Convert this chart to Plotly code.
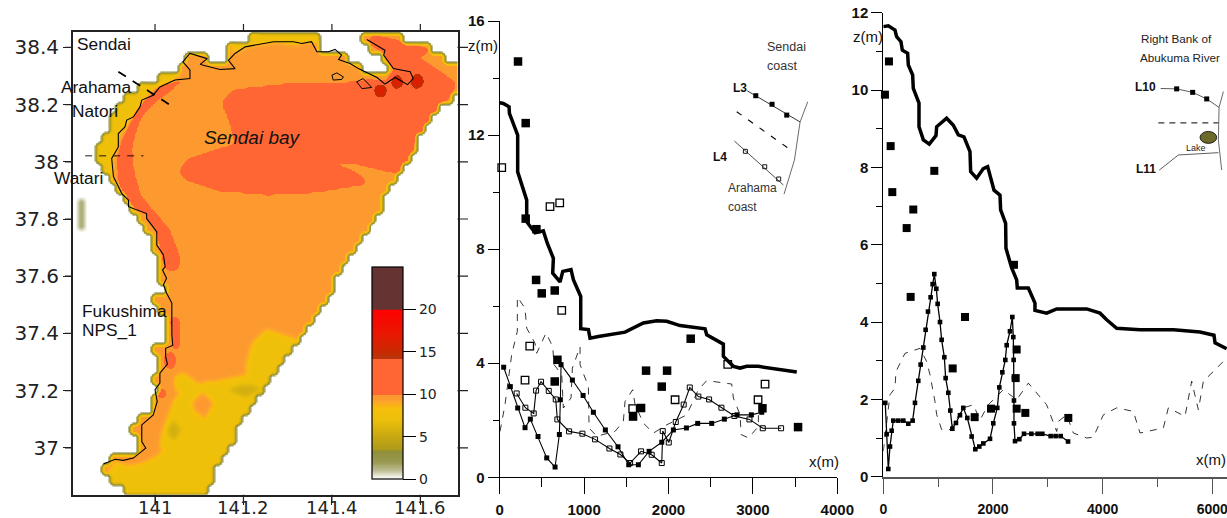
import numpy as np
import plotly.graph_objects as go

W, H = 1227, 518

# ---------- map regions (longitude, latitude) ----------
SEA_LON = [141.060,141.079,141.128,141.111,141.147,141.173,141.151,141.177,141.238,141.328,141.392,141.373,141.426,141.434,141.517,141.532,141.528,141.502,141.468,141.464,141.502,141.615,141.660,141.684,141.684,141.637,141.592,141.547,141.517,141.479,141.434,141.373,141.313,141.253,141.192,141.132,141.113,140.936,140.891,140.883,140.910,140.951,140.959,140.947,140.966,140.996,141.000,140.996,141.010,140.998,141.023,141.030,140.989,141.026,140.998,141.004,140.974,140.936,140.910,140.872,140.857,140.887,140.891,140.936,140.981,141.049]
SEA_LAT = [38.344,38.379,38.367,38.341,38.326,38.338,38.373,38.414,38.443,38.443,38.425,38.390,38.373,38.344,38.291,38.291,38.315,38.367,38.402,38.443,38.449,38.408,38.350,38.326,38.251,38.169,38.064,37.948,37.866,37.761,37.652,37.500,37.360,37.209,37.080,36.917,36.836,36.836,36.906,36.941,36.976,36.976,37.022,37.069,37.104,37.115,37.197,37.255,37.273,37.348,37.358,37.465,37.517,37.535,37.646,37.668,37.761,37.837,37.913,37.994,38.041,38.099,38.134,38.227,38.280,38.307]

YELLOW_NW_LON = [140.845,140.902,140.902,140.917,140.932,140.966,141.011,141.057,141.026,140.876,140.838]
YELLOW_NW_LAT = [37.959,37.959,38.006,38.099,38.122,38.204,38.265,38.303,38.332,38.181,38.041]
YELLOW_N_LON = [141.170,141.238,141.373,141.373,141.313,141.268,141.207,141.181]
YELLOW_N_LAT = [38.402,38.455,38.455,38.423,38.416,38.421,38.408,38.385]
YELLOW_S_LON = [141.328,141.253,141.222,141.211,141.207,141.132,141.094,141.064,141.045,141.045,141.060,141.041,141.019,141.011,141.019,140.974,140.936,140.910,140.891,140.876,141.140,141.450,141.450]
YELLOW_S_LAT = [37.372,37.413,37.372,37.314,37.255,37.230,37.226,37.261,37.249,37.214,37.197,37.162,37.069,37.010,36.987,36.946,36.935,36.952,36.906,36.847,36.800,36.800,37.372]
ORANGE_ISLE_LON = [141.079,141.106,141.136,141.113,141.090]
ORANGE_ISLE_LAT = [37.156,37.203,37.162,37.096,37.127]
RED_MAIN_LON = [141.155,141.177,141.290,141.403,141.449,141.479,141.524,141.584,141.543,141.517,141.479,141.502,141.562,141.618,141.588,141.637,141.675,141.667,141.630,141.592,141.551,141.479,141.366,141.253,141.140,141.072,141.057,141.079,141.132,141.185,141.173]
RED_MAIN_LAT = [38.204,38.245,38.265,38.265,38.274,38.280,38.274,38.291,38.326,38.390,38.428,38.435,38.414,38.390,38.367,38.315,38.274,38.245,38.163,38.076,37.965,37.930,37.901,37.892,37.907,37.942,37.965,38.006,38.033,38.058,38.140]
ORANGE_WEDGE_LON = [141.373,141.441,141.551,141.517,141.479,141.441,141.403]
ORANGE_WEDGE_LAT = [38.000,38.003,37.965,37.913,37.927,37.965,37.986]
RED_COAST_LON = [141.068,141.004,140.970,140.947,140.928,140.917,140.919,140.947,140.981,141.008,141.019,141.024,141.051,141.049,141.026,140.981,140.962,140.947,140.940,140.951,140.966,141.004,141.049]
RED_COAST_LAT = [38.288,38.260,38.206,38.140,38.076,38.006,37.936,37.854,37.819,37.749,37.663,37.633,37.633,37.680,37.761,37.843,37.878,37.959,38.041,38.111,38.169,38.227,38.274]
RED_STRIP_A_LON = [141.039,141.053,141.053,141.041]
RED_STRIP_A_LAT = [37.453,37.453,37.348,37.348]
RED_STRIP_B_LON = [141.026,141.041,141.041,141.026]
RED_STRIP_B_LAT = [37.328,37.328,37.284,37.284]
RED_STRIP_C_LON = [141.004,141.019,141.019,141.004]
RED_STRIP_C_LAT = [37.206,37.206,37.185,37.185]
OLIVE_A_LON = [141.022,141.041,141.062,141.041]
OLIVE_A_LAT = [37.063,37.105,37.063,37.025]
OLIVE_B_LON = [141.160,141.205,141.245,141.205]
OLIVE_B_LAT = [37.205,37.228,37.210,37.178]
ISLET_A_LON = [140.825,140.838,140.838,140.825]
ISLET_A_LAT = [37.870,37.870,37.760,37.760]
SPOT_LON = [141.509,141.547,141.592]
SPOT_LAT = [38.251,38.282,38.282]

COAST_LON = [141.479,141.520,141.517,141.539,141.577,141.584,141.571,141.543,141.520,141.502,141.460,141.441,141.415,141.422,141.407,141.392,141.366,141.354,141.332,141.313,141.268,141.230,141.204,141.181,141.166,141.181,141.147,141.109,141.102,141.118,141.079,141.063,141.079,141.079,141.045,141.011,140.996,140.970,140.966,140.951,140.936,140.932,140.917,140.917,140.902,140.906,140.925,140.940,140.940,140.981,140.981,141.004,141.004,141.019,141.023,141.017,141.026,141.019,141.026,141.038,141.038,141.040,141.024,141.024,141.028,141.011,141.011,141.000,141.005,140.996,140.970,140.970,140.979,140.951,140.928,140.910,140.883]
COAST_LAT = [38.428,38.390,38.373,38.326,38.315,38.291,38.270,38.295,38.272,38.295,38.326,38.344,38.358,38.373,38.393,38.385,38.385,38.420,38.414,38.420,38.420,38.408,38.402,38.379,38.355,38.326,38.323,38.338,38.341,38.361,38.379,38.350,38.321,38.291,38.286,38.262,38.233,38.216,38.192,38.157,38.146,38.122,38.099,38.052,38.012,37.948,37.889,37.866,37.843,37.819,37.802,37.755,37.709,37.674,37.633,37.622,37.593,37.570,37.541,37.506,37.395,37.358,37.348,37.319,37.293,37.261,37.226,37.203,37.162,37.115,37.080,37.022,36.999,36.964,36.956,36.960,36.943]
ISLAND_A_LON = [141.400,141.411,141.426,141.422,141.403,141.400]
ISLAND_A_LAT = [38.303,38.311,38.297,38.288,38.286,38.303]
ISLAND_B_LON = [141.456,141.471,141.490,141.468,141.456]
ISLAND_B_LAT = [38.280,38.291,38.260,38.256,38.280]
TRANSECT_LON = [140.917,141.038]
TRANSECT_LAT = [38.315,38.195]
WATARI_LON = [140.842,140.974]
WATARI_LAT = [38.021,38.021]

LON_TICKS = [141,141.2,141.4,141.6]
LON_LABELS = ["141","141.2","141.4","141.6"]
LAT_TICKS = [37,37.2,37.4,37.6,37.8,38,38.2,38.4]
LAT_LABELS = ["37","37.2","37.4","37.6","37.8","38","38.2","38.4"]
SCALE_TICKS = [0,5,10,15,20]

# ---------- profile L3 / L4 ----------
A_GROUND_X = [0,43,111,115,213,213,320,320,419,517,565,636,628,715,747,845,873,960,960,1051,1070,1169,1485,1604,1702,1860,1979,2137,2433,2453,2650,2650,2769,2848,2927,3065,3520]
A_GROUND_Z = [13.13,13.11,12.99,12.76,12.0,10.71,9.72,8.96,8.57,8.64,8.2,7.68,7.16,6.85,7.22,7.28,6.93,6.34,5.21,5.18,4.88,4.94,5.09,5.26,5.41,5.49,5.47,5.32,5.21,5.0,4.67,4.24,3.89,3.83,3.89,3.89,3.69]
A_L3_X = [47,126,213,300,363,454,557,656,707,719,727,861,988,1110,1252,1402,1529,1643,1770,1920,2058,2212,2346,2512,2662,2812,2982,3105,3113]
A_L3_Z = [3.86,3.18,2.43,1.74,2.04,1.43,0.68,0.36,1.50,2.72,3.95,3.41,2.87,2.28,1.66,1.07,0.44,0.44,0.91,1.23,1.66,1.73,1.89,1.89,2.04,2.19,2.19,2.28,2.42]
A_L4_X = [201,304,403,431,490,581,664,683,822,980,1130,1300,1430,1545,1675,1801,1920,1932,2003,2086,2180,2252,2354,2481,2627,2781,2959,3117,3334]
A_L4_Z = [2.94,2.44,2.24,3.04,3.35,3.03,2.73,2.03,1.61,1.53,1.33,1.01,0.80,0.50,0.91,0.79,0.50,1.62,1.22,1.94,2.55,3.15,2.83,2.73,2.44,2.15,2.03,1.72,1.72]
A_DASH_X = [4,63,142,209,209,300,320,419,438,549,628,644,735,754,845,861,952,952,1051,1059,1149,1367,1465,1485,1576,1604,1702,1821,1979,2216,2354,2453,2749,2769,2848,2860,2947,3065,3065]
A_DASH_Z = [1.61,2.55,4.30,5.12,6.32,5.93,5.23,4.70,4.35,5.06,4.58,3.95,3.60,2.43,2.78,3.83,4.58,3.95,3.18,1.73,1.44,1.61,1.96,2.66,3.07,2.55,1.90,1.55,1.84,2.19,3.07,3.39,3.27,2.78,2.19,1.50,1.38,1.78,2.19]
A_SOLID_X = [217,308,308,435,431,498,652,684,652,1734,1983,1920,2263,1580,1675,3113,3535]
A_SOLID_Z = [14.58,12.42,9.07,8.7,6.92,6.45,6.55,4.12,3.36,3.74,3.74,3.18,4.86,2.13,2.43,2.42,1.76]
A_OPEN_X = [24,596,711,735,356,300,1576,2078,2702,3061,3144]
A_OPEN_Z = [10.86,9.49,9.62,5.85,4.6,3.41,2.41,2.72,3.96,2.72,3.27]
A_KEY_L3_X = [2935,3559]
A_KEY_L3_Z = [13.55,12.46]
A_KEY_L3M_X = [3034,3227,3401]
A_KEY_L3M_Z = [13.38,13.08,12.70]
A_KEY_MID_X = [2808,3480]
A_KEY_MID_Z = [12.82,11.41]
A_KEY_L4_X = [2781,3361]
A_KEY_L4_Z = [11.79,10.25]
A_KEY_L4M_X = [2911,3140,3306]
A_KEY_L4M_Z = [11.43,10.89,10.46]
A_KEY_COAST_X = [3650,3559,3492,3369]
A_KEY_COAST_Z = [13.17,12.46,11.12,9.93]

# ---------- profile L10 / L11 ----------
B_GROUND_X = [0,91,213,243,322,347,444,456,535,547,651,651,730,839,961,973,1155,1277,1368,1471,1581,1593,1702,1824,1903,2019,2128,2140,2231,2237,2341,2432,2444,2645,2766,2766,2979,3162,3709,3952,4074,4256,4682,5290,5776,6031,6050,6262]
B_GROUND_Z = [11.64,11.66,11.55,11.38,11.25,11.03,10.95,10.65,10.39,10.04,9.66,9.05,8.71,8.60,8.82,9.05,9.27,9.09,8.84,8.79,8.41,7.89,7.72,7.97,8.02,7.41,7.28,6.90,6.55,5.91,5.40,5.09,4.88,4.88,4.49,4.30,4.23,4.34,4.34,4.23,4.06,3.84,3.80,3.80,3.74,3.66,3.46,3.31]
B_L10_X = [36,61,91,122,152,182,274,365,456,535,578,638,681,730,772,815,863,900,930,967,991,1034,1064,1113,1137,1186,1222,1259,1325,1398,1459,1532,1611,1678,1751,1824,1946,2006,2079,2116,2171,2225,2250,2310,2353,2371,2377,2383,2383,2383,2402,2481,2566,2700,2815,2900,3052,3143,3235,3369]
B_L10_Z = [1.91,1.10,0.20,0.78,1.19,1.45,1.45,1.45,1.37,1.45,1.91,2.48,2.90,3.34,3.80,4.27,4.64,4.98,5.24,4.86,4.47,4.00,3.54,3.09,2.55,2.17,1.71,1.24,1.39,1.59,1.78,1.52,1.04,0.71,0.78,0.86,0.98,1.38,1.78,2.31,2.70,3.02,3.40,3.76,4.13,3.61,3.02,2.55,1.97,1.38,0.92,0.97,1.11,1.11,1.11,1.11,1.05,1.05,1.05,0.91]
B_DASH_X = [0,122,213,231,395,669,790,851,942,973,1064,1216,1459,1642,1763,1915,2189,2432,2645,2979,3162,3192,3344,3466,3709,3830,4013,4256,4560,4682,5107,5198,5502,5624,5746,5837,6019,6262]
B_DASH_Z = [0.66,2.12,2.29,2.72,3.19,3.32,2.98,2.64,1.95,1.61,1.22,1.22,1.78,1.86,1.47,1.86,2.25,1.99,2.42,1.86,1.17,1.43,1.60,1.13,1.00,1.02,1.60,1.78,1.69,1.13,1.26,1.78,1.56,2.47,1.73,2.47,2.72,3.07]
B_SOLID_X = [103,30,134,164,547,426,930,2383,499,1490,1265,2432,2414,2432,2590,1964,1666,3374]
B_SOLID_Z = [10.74,9.88,8.55,7.36,6.91,6.43,7.91,5.48,4.65,4.13,2.80,3.29,2.55,1.76,1.65,1.76,1.54,1.52]
B_KEY_L10_X = [5059,5350,5642,5898,6123]
B_KEY_L10_Z = [10.04,10.03,9.94,9.77,9.55]
B_KEY_L10M_X = [5350,5642,5898]
B_KEY_L10M_Z = [10.03,9.94,9.77]
B_KEY_COAST_X = [6202,6123,6111,6171]
B_KEY_COAST_Z = [9.96,9.55,8.71,7.93]
B_KEY_MID_X = [5016,6111]
B_KEY_MID_Z = [9.15,9.15]
B_KEY_L11_X = [5034,5381,6111]
B_KEY_L11_Z = [7.93,8.32,8.38]

LON_RANGE = (140.8145, 141.684)
LAT_RANGE = (36.836, 38.454)

# ---------- rasterise the regions into the depth grid ----------
def inside(xx, yy, px, py):
    px, py = np.asarray(px), np.asarray(py)
    res = np.zeros(xx.shape, bool)
    n = len(px)
    for i in range(n):
        j = (i - 1) % n
        cond = (py[i] > yy) != (py[j] > yy)
        xc = (px[j] - px[i]) * (yy - py[i]) / (py[j] - py[i] + 1e-12) + px[i]
        res ^= cond & (xx < xc)
    return res

def blur(a, k):
    ker = np.ones(k) / k
    pad = k // 2
    b = np.pad(a, pad, mode="edge")
    b = np.apply_along_axis(lambda r: np.convolve(r, ker, mode="valid"), 1, b)
    b = np.apply_along_axis(lambda r: np.convolve(r, ker, mode="valid"), 0, b)
    return b

lon = np.arange(LON_RANGE[0], LON_RANGE[1] + 1e-6, 0.0045)
lat = np.arange(LAT_RANGE[0], LAT_RANGE[1] + 1e-6, 0.007)
XX, YY = np.meshgrid(lon, lat)

# the source grid: coarse cells give the stepped outer edge
CELL_LON, CELL_LAT = 0.0158, 0.035
snap_x = np.round(XX / CELL_LON) * CELL_LON
snap_y = np.round(YY / CELL_LAT) * CELL_LAT
m = inside(snap_x, snap_y, SEA_LON, SEA_LAT).astype(float)
m = blur(m, 3)
m = np.clip((m - 0.2) / 0.6, 0, 1)

depth = np.full(XX.shape, 9.4)
for plon, plat, val in [
    (YELLOW_S_LON, YELLOW_S_LAT, 7.4),
    (YELLOW_NW_LON, YELLOW_NW_LAT, 7.4),
    (YELLOW_N_LON, YELLOW_N_LAT, 7.4),
    (ORANGE_ISLE_LON, ORANGE_ISLE_LAT, 9.4),
    (OLIVE_A_LON, OLIVE_A_LAT, 5.6),
    (OLIVE_B_LON, OLIVE_B_LAT, 5.6),
    (RED_MAIN_LON, RED_MAIN_LAT, 12.0),
    (ORANGE_WEDGE_LON, ORANGE_WEDGE_LAT, 9.4),
    (RED_COAST_LON, RED_COAST_LAT, 12.0),
    (RED_STRIP_A_LON, RED_STRIP_A_LAT, 12.0),
    (RED_STRIP_B_LON, RED_STRIP_B_LAT, 12.0),
    (RED_STRIP_C_LON, RED_STRIP_C_LAT, 12.0),
]:
    depth[inside(XX, YY, plon, plat)] = val
for sx, sy in zip(SPOT_LON, SPOT_LAT):
    depth[((XX - sx) / 0.015) ** 2 + ((YY - sy) / 0.026) ** 2 < 1] = 16.5
depth = blur(blur(depth, 3), 3)
z = depth * m
islet = np.zeros(XX.shape)
islet[inside(XX, YY, ISLET_A_LON, ISLET_A_LAT)] = 1.5
z = np.maximum(z, blur(islet, 3))
z = np.round(z, 2)

SCALE = [
    (0, "#ffffff"), (0.25, "#f2f2e6"), (1, "#bdbd94"), (2, "#999950"), (3.3, "#8f8f3a"), (3.45, "#ad9a1a"),
    (5, "#c8a812"), (7, "#ecc00a"), (8.3, "#f6bf0a"), (9.1, "#fda52a"), (9.4, "#fd9a2f"),
    (9.88, "#fd9a2f"), (9.9, "#ff6633"), (14.1, "#ff6633"), (14.2, "#b83410"),
    (15, "#c82a00"), (17, "#e81800"), (19.95, "#ff0000"), (20, "#663333"), (25, "#663333"),
]
colorscale = [[v / 25, c] for v, c in SCALE]

TICKFONT = dict(family="DejaVu Sans", size=20, color="#222222")
LON_FONT = dict(family="DejaVu Sans", size=18, color="#222222")
BOLD_TICK = dict(family="Liberation Sans", size=15, color="#111111", weight="bold")
BOLD_TICK_B = dict(family="Liberation Sans", size=14, color="#111111", weight="bold")

fig = go.Figure()

fig.add_trace(go.Heatmap(
    x=lon, y=lat, z=z, zmin=0, zmax=25, zsmooth="best", colorscale=colorscale, hoverinfo="skip",
    xaxis="x", yaxis="y",
    colorbar=dict(
        x=371.7 / W, xanchor="left", y=(H - 479) / H, yanchor="bottom", xpad=0, ypad=0,
        thickness=31, thicknessmode="pixels", len=212, lenmode="pixels",
        outlinecolor="black", outlinewidth=1.2, ticks="outside", ticklen=13, tickcolor="black", tickwidth=1,
        tickvals=SCALE_TICKS, tickfont=dict(family="DejaVu Sans", size=14, color="#222222"),
    ),
))

def line(x, y, ax="", width=1, color="black", dash=None):
    fig.add_trace(go.Scatter(x=x, y=y, mode="lines", xaxis="x" + ax, yaxis="y" + ax, cliponaxis=False,
                             line=dict(width=width, color=color, dash=dash), hoverinfo="skip", showlegend=False))

def marks(x, y, ax, size, symbol="square", lw=1.2, color="black"):
    fig.add_trace(go.Scatter(x=x, y=y, mode="markers", xaxis="x" + ax, yaxis="y" + ax, cliponaxis=False,
                             marker=dict(size=size, symbol=symbol, color=color, line=dict(width=lw if "open" in symbol else 0, color=color)),
                             hoverinfo="skip", showlegend=False))

def linemarks(x, y, ax, size, symbol, width=1.1):
    fig.add_trace(go.Scatter(x=x, y=y, mode="lines+markers", xaxis="x" + ax, yaxis="y" + ax, cliponaxis=False,
                             line=dict(width=width, color="black"),
                             marker=dict(size=size, symbol=symbol, color="black", line=dict(width=1 if "open" in symbol else 0, color="black")),
                             hoverinfo="skip", showlegend=False))

# map overlays
line(COAST_LON, COAST_LAT, width=1.1)
line(ISLAND_A_LON, ISLAND_A_LAT, width=1)
line(ISLAND_B_LON, ISLAND_B_LAT, width=1)
line(TRANSECT_LON, TRANSECT_LAT, width=1.8, dash="9px,8px")
line(WATARI_LON, WATARI_LAT, width=0.9, dash="7px,7px")

# L3/L4 panel
line(A_DASH_X, A_DASH_Z, "2", width=0.8, dash="7px,7px")
linemarks(A_L3_X, A_L3_Z, "2", 5, "square")
linemarks(A_L4_X, A_L4_Z, "2", 5, "square-open")
line(A_GROUND_X, A_GROUND_Z, "2", width=3.5)
marks(A_SOLID_X, A_SOLID_Z, "2", 8.5)
marks(A_OPEN_X, A_OPEN_Z, "2", 7.5, "square-open", 1.3)
line(A_KEY_L3_X, A_KEY_L3_Z, "2", width=0.8)
marks(A_KEY_L3M_X, A_KEY_L3M_Z, "2", 5)
line(A_KEY_MID_X, A_KEY_MID_Z, "2", width=1.1, dash="6px,8px")
line(A_KEY_L4_X, A_KEY_L4_Z, "2", width=0.7)
marks(A_KEY_L4M_X, A_KEY_L4M_Z, "2", 4, "square-open", 0.9)
line(A_KEY_COAST_X, A_KEY_COAST_Z, "2", width=0.8, color="#444444")

# L10/L11 panel
line(B_DASH_X, B_DASH_Z, "3", width=0.8, dash="7px,7px")
linemarks(B_L10_X, B_L10_Z, "3", 4.6, "square", 1.3)
line(B_GROUND_X, B_GROUND_Z, "3", width=3.5)
marks(B_SOLID_X, B_SOLID_Z, "3", 8)
line(B_KEY_L10_X, B_KEY_L10_Z, "3", width=0.8, color="#333333")
marks(B_KEY_L10M_X, B_KEY_L10M_Z, "3", 5)
line(B_KEY_COAST_X, B_KEY_COAST_Z, "3", width=0.8, color="#444444")
line(B_KEY_MID_X, B_KEY_MID_Z, "3", width=1, dash="6px,5px")
line(B_KEY_L11_X, B_KEY_L11_Z, "3", width=0.8, color="#333333")

def hd(a, b):
    return [a / W, b / W]

def vd(top, bottom):
    return [(H - bottom) / H, (H - top) / H]

def ann(px, py, text, size=17.3, family="Liberation Sans", color="#111111", anchor="left", **kw):
    fig.add_annotation(x=(px - 2) / W, y=1 - py / H, xref="paper", yref="paper", text=text, showarrow=False,
                       xanchor=anchor, yanchor="middle", font=dict(family=family, size=size, color=color, **kw))

SANS = "Liberation Sans"
ann(77, 44, "Sendai")
ann(61, 87, "Arahama")
ann(72, 111, "Natori")
ann(54, 178, "Watari")
ann(82, 311, "Fukushima")
ann(82, 330, "NPS_1")
ann(204, 137, "<i>Sendai bay</i>", size=19)

# longitude labels sit close under the frame
for v, t in zip(LON_TICKS, LON_LABELS):
    fig.add_annotation(x=v, xref="x", y=1 - 507 / H, yref="paper", text=t, showarrow=False,
                       xanchor="center", yanchor="middle", font=LON_FONT)

# frame ticks of the map, all four sides
TICK_LINE = dict(color="#222222", width=1.2)
for v in LON_TICKS:
    fig.add_shape(type="line", xref="x", yref="paper", x0=v, x1=v, y0=1 - 494.7 / H, y1=1 - 503 / H, line=TICK_LINE)
    fig.add_shape(type="line", xref="x", yref="paper", x0=v, x1=v, y0=1 - 32 / H, y1=1 - 24 / H, line=TICK_LINE)
for v in LAT_TICKS:
    fig.add_shape(type="line", xref="paper", yref="y", x0=65 / W, x1=73 / W, y0=v, y1=v, line=TICK_LINE)
    fig.add_shape(type="line", xref="paper", yref="y", x0=457.5 / W, x1=468 / W, y0=v, y1=v, line=TICK_LINE)

ann(468, 45, "z(m)", 15, SANS)
ann(809, 461, "x(m)", 15, SANS)
ann(767, 47, "Sendai", 12.5, SANS, "#333333")
ann(767, 66, "coast", 12.5, SANS, "#333333")
ann(733, 88, "L3", 12, SANS, weight="bold")
ann(713, 157, "L4", 12, SANS, weight="bold")
ann(728, 188, "Arahama", 12, SANS, "#333333")
ann(728, 207, "coast", 12, SANS, "#333333")

ann(853, 37, "z(m)", 15, SANS)
ann(1196, 459, "x(m)", 15, SANS)
ann(1141, 39, "Right Bank of", 11.7, SANS, "#222222")
ann(1140, 57, "Abukuma River", 11.7, SANS, "#222222")
ann(1135, 87, "L10", 12, SANS, weight="bold")
ann(1136, 169, "L11", 12, SANS, weight="bold")
ann(1186, 148, "Lake", 9, SANS, "#222222")

# lake in the key, in panel units
fig.add_shape(type="circle", xref="x3", yref="y3", x0=5776, x1=6080, y0=8.62, y1=8.93,
              fillcolor="#6b6a2a", line=dict(color="black", width=0.8))

common_map = dict(showline=True, linewidth=2, linecolor="#222222", mirror=True, ticks="outside",
                  ticklen=8, tickcolor="#222222", tickfont=TICKFONT, showgrid=False, zeroline=False, layer="above traces")
thin = dict(showline=True, linecolor="black", linewidth=1, ticks="outside", tickcolor="black", tickwidth=1,
            showgrid=False, zeroline=False, ticklabeloverflow="allow")

fig.update_layout(
    width=W, height=H, margin=dict(l=0, r=0, t=0, b=0, autoexpand=False),
    paper_bgcolor="white", plot_bgcolor="white", showlegend=False,
    xaxis=dict(domain=hd(73, 457.5), range=list(LON_RANGE), tickvals=LON_TICKS, showticklabels=False, anchor="y", **common_map),
    yaxis=dict(domain=vd(32, 494.7), range=list(LAT_RANGE), tickvals=LAT_TICKS, ticktext=LAT_LABELS, anchor="x",
               ticklabeloverflow="allow", **common_map),
    xaxis2=dict(domain=hd(499.7, 837.3), range=[0, 4000], anchor="y2", dtick=1000, tick0=0, ticklen=16, tickfont=BOLD_TICK,
                minor=dict(dtick=500, ticklen=9, ticks="outside", tickcolor="black"), ticklabelstandoff=3, **thin),
    yaxis2=dict(domain=vd(21, 477.3), range=[0, 16], anchor="x2", dtick=4, tick0=0, ticklen=11, tickfont=BOLD_TICK,
                minor=dict(dtick=2, ticklen=6, ticks="outside", tickcolor="black"), **thin),
    xaxis3=dict(domain=hd(883.3, 1227), range=[0, 6268], anchor="y3", dtick=2000, tick0=0, ticklen=15, tickfont=BOLD_TICK_B,
                minor=dict(dtick=1000, ticklen=8, ticks="outside", tickcolor="#555555"), ticklabelstandoff=3,
                **{**thin, "linecolor": "#555555", "linewidth": 2, "tickcolor": "#555555"}),
    yaxis3=dict(domain=vd(12.7, 476.7), range=[0, 12], anchor="x3", dtick=2, tick0=0, ticklen=11, tickfont=BOLD_TICK,
                minor=dict(dtick=1, ticklen=6, ticks="outside", tickcolor="black"), **thin),
)

fig.write_html("out.html", config=dict(displayModeBar=False),
               post_script="document.body.style.margin='0';document.body.style.overflow='hidden';")
